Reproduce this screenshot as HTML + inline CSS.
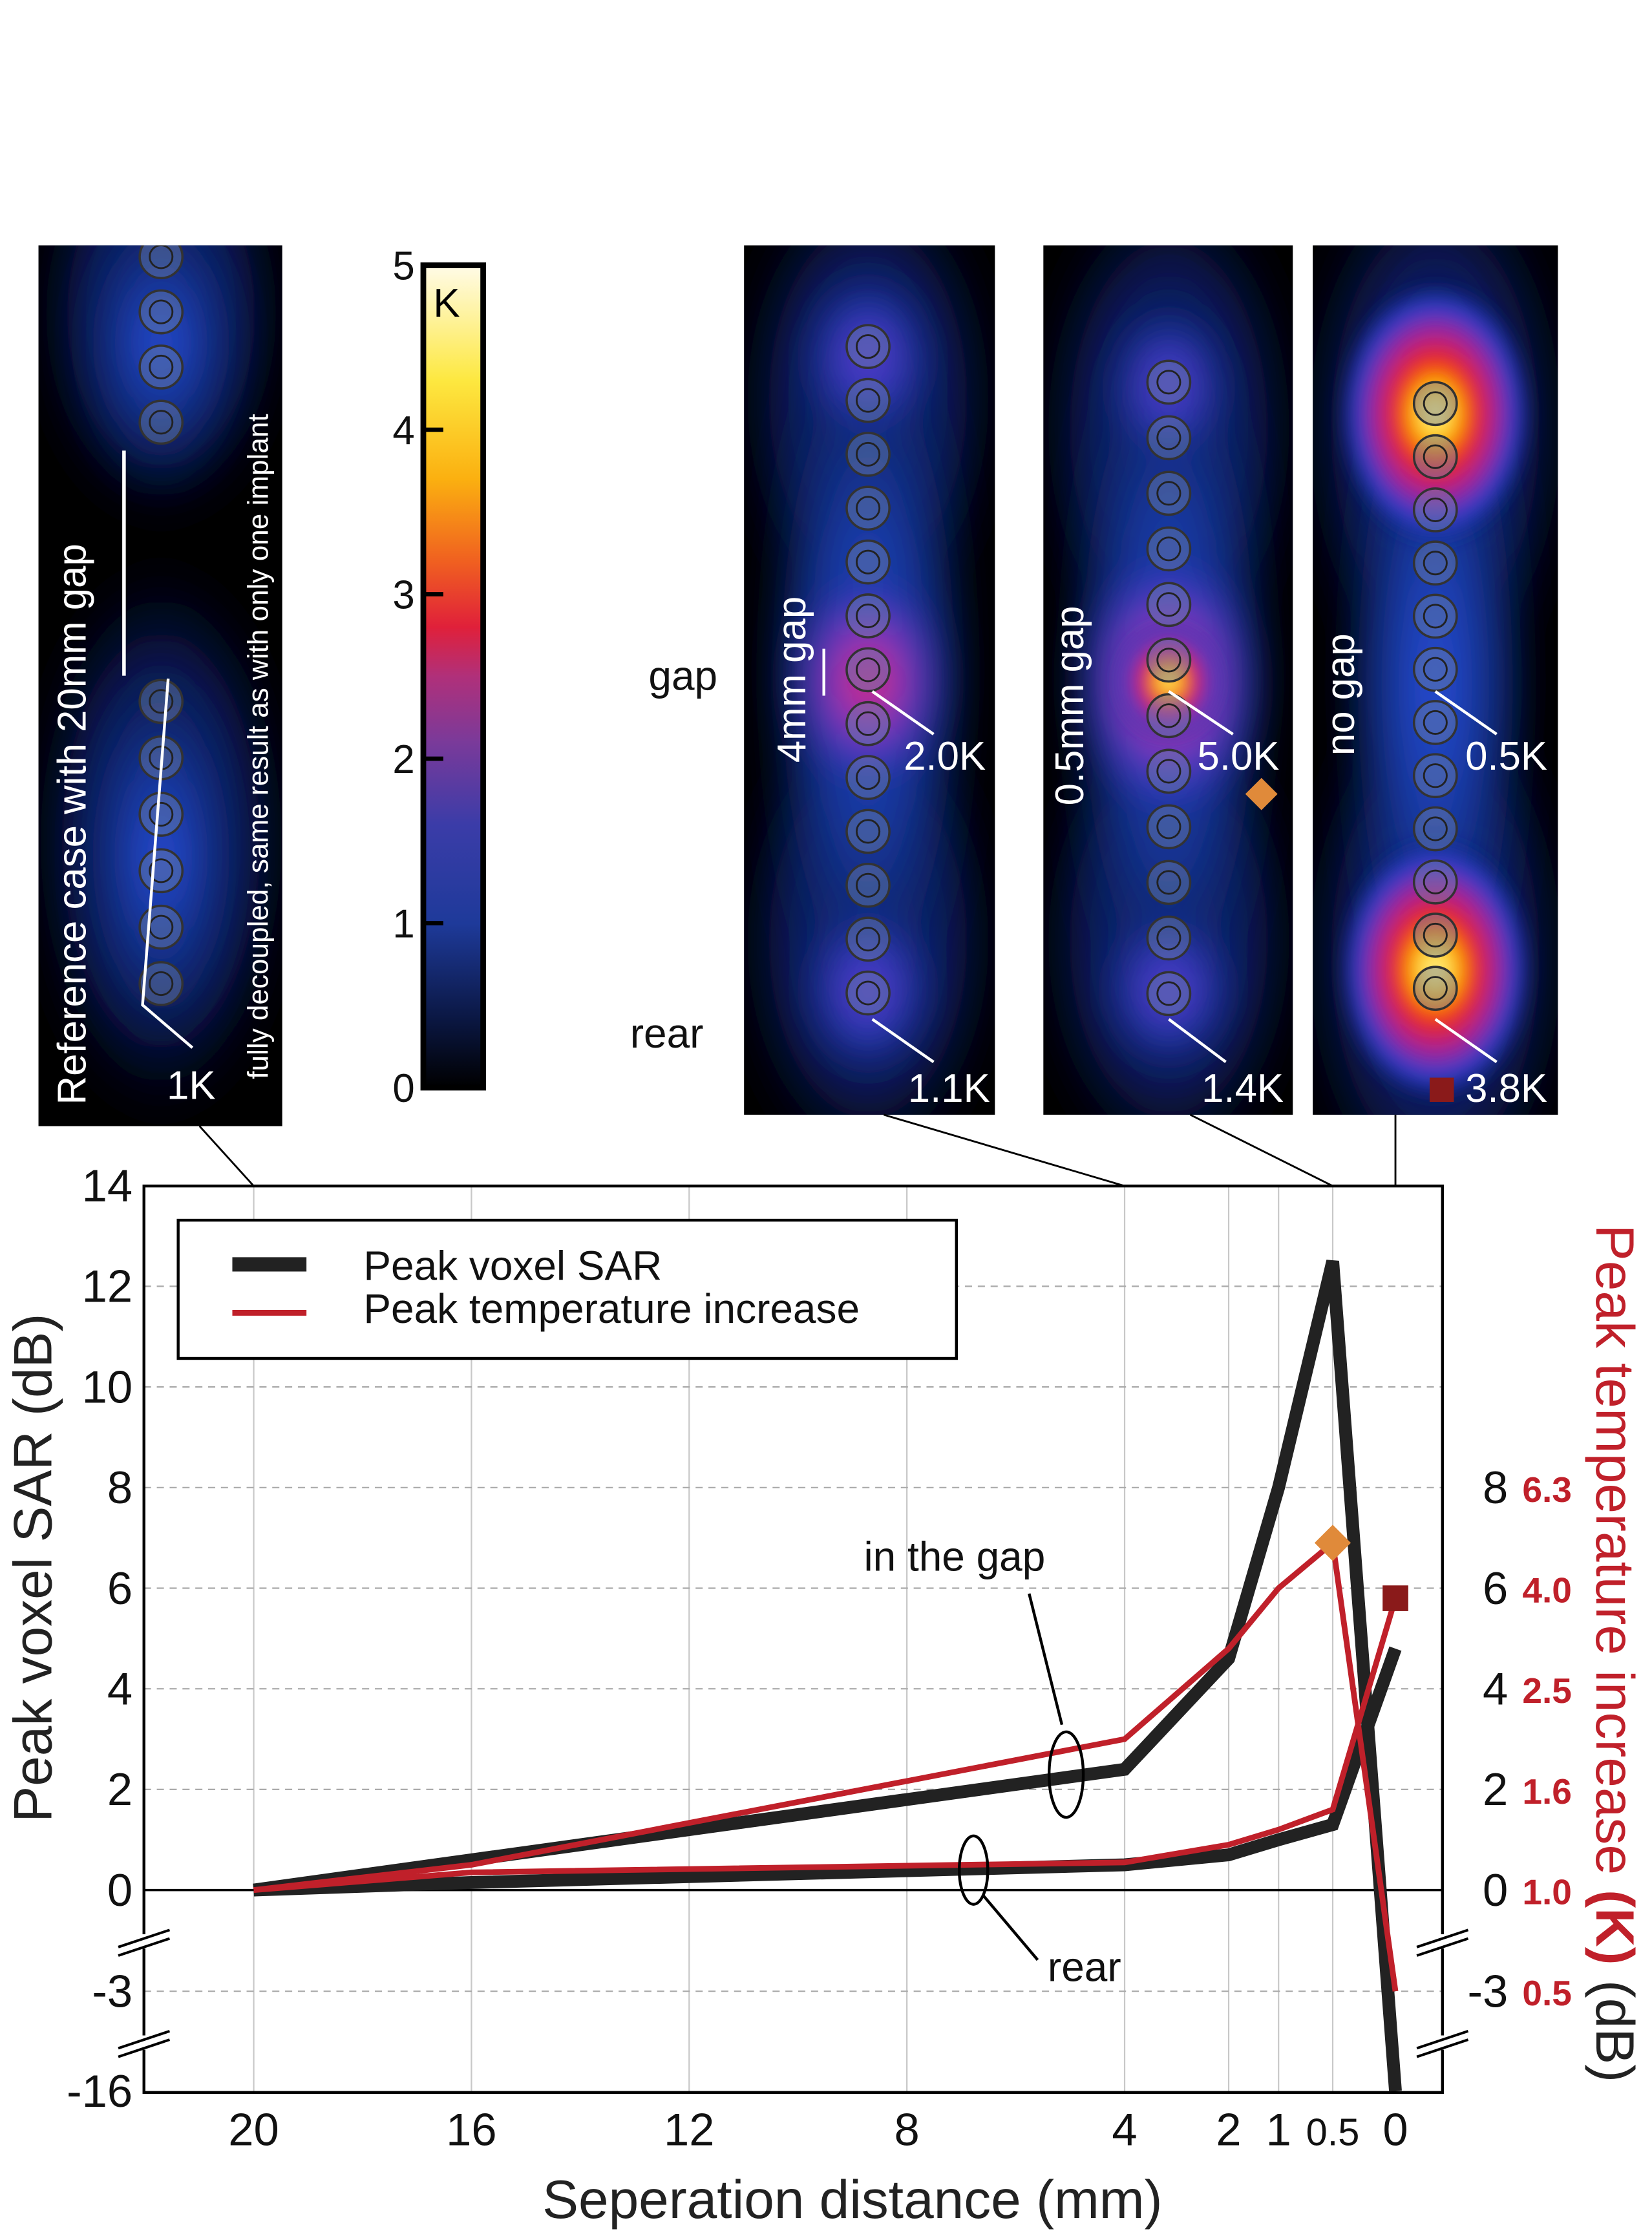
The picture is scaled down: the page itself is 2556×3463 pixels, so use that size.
<!DOCTYPE html>
<html><head><meta charset="utf-8"><style>
html,body{margin:0;padding:0;background:#fff}
svg{display:block}
text{font-family:"Liberation Sans",sans-serif}
</style></head><body>
<svg id="fig" width="2556" height="3463" viewBox="0 0 1159 1570" xmlns="http://www.w3.org/2000/svg">
<defs>
<filter id="blur" x="-50%" y="-50%" width="200%" height="200%"><feGaussianBlur stdDeviation="14"/></filter>
<filter id="blur2" x="-50%" y="-50%" width="200%" height="200%"><feGaussianBlur stdDeviation="6"/></filter>
<linearGradient id="cmap" x1="0" y1="1" x2="0" y2="0">
<stop offset="0" stop-color="#000"/><stop offset="0.08" stop-color="#0a1640"/><stop offset="0.2" stop-color="#1e3a9a"/>
<stop offset="0.32" stop-color="#3b3ca8"/><stop offset="0.42" stop-color="#7a3a9a"/><stop offset="0.5" stop-color="#b0307a"/>
<stop offset="0.56" stop-color="#e0203a"/><stop offset="0.64" stop-color="#f06020"/><stop offset="0.74" stop-color="#fbb010"/>
<stop offset="0.86" stop-color="#fde840"/><stop offset="1" stop-color="#fffbe8"/></linearGradient>
<radialGradient id="halo"><stop offset="0" stop-color="#1a3090"/><stop offset="0.6" stop-color="#0c1a58"/><stop offset="1" stop-color="#050a25" stop-opacity="0"/></radialGradient>
<radialGradient id="hb"><stop offset="0" stop-color="#2a50e0"/><stop offset="0.5" stop-color="#12308a"/><stop offset="1" stop-color="#05102a" stop-opacity="0"/></radialGradient>
<radialGradient id="hm"><stop offset="0" stop-color="#f02050"/><stop offset="0.35" stop-color="#a030b0"/><stop offset="0.7" stop-color="#2a40c8"/><stop offset="1" stop-color="#0a1a60" stop-opacity="0"/></radialGradient>
<radialGradient id="hh"><stop offset="0" stop-color="#fff8b0"/><stop offset="0.18" stop-color="#ffd010"/><stop offset="0.38" stop-color="#f02a10"/><stop offset="0.58" stop-color="#b02090"/><stop offset="0.8" stop-color="#2a40d0"/><stop offset="1" stop-color="#0a1a60" stop-opacity="0"/></radialGradient>
<radialGradient id="hp"><stop offset="0" stop-color="#7030c0"/><stop offset="0.5" stop-color="#2a40c8"/><stop offset="1" stop-color="#0a1a60" stop-opacity="0"/></radialGradient>
</defs>
<g id="heatmaps"></g>
<g id="chart"></g>
</svg>
<script>
// ===== chart data =====
const xTicks = [20,16,12,8,4,2,1,0.5,0];
const xTickLabels = ["20","16","12","8","4","2","1","0.5","0"];
const yTicks = [14,12,10,8,6,4,2,0,-3,-16];
const yTickLabels = ["14","12","10","8","6","4","2","0","-3","-16"];
const yRightTicks = [8,6,4,2,0,-3];
const yRightLabels = ["6.3","4.0","2.5","1.6","1.0","0.5"];
const distances = [20,16,4,2,1,0.5,0];
const sarGap = [0,0.6,2.4,4.6,8,12.5,-16];
const sarRear = [0,0.15,0.5,0.7,1.0,1.3,4.8];
const tempGap = [0,0.5,3,4.8,6,6.9,-3];
const tempRear = [0,0.35,0.55,0.9,1.2,1.6,5.8];

const NS="http://www.w3.org/2000/svg";
function mk(tag,attrs,parent,txt){const e=document.createElementNS(NS,tag);for(const k in attrs)e.setAttribute(k,attrs[k]);if(txt!==undefined)e.textContent=txt;parent.appendChild(e);return e;}
const xKnotsV=[20,4,2,1,0.5,0], xKnotsP=[178,789,862,897,935,979];
function X(v){for(let i=0;i<xKnotsV.length-1;i++){const a=xKnotsV[i],b=xKnotsV[i+1];if(v<=a&&v>=b)return xKnotsP[i]+(a-v)/(a-b)*(xKnotsP[i+1]-xKnotsP[i]);}return 979;}
function Y(v){if(v>=0)return 1326-35.3*v;if(v>=-3)return 1326+v/-3*71;return 1397+(v+3)/-13*70;}
const C=document.getElementById('chart');
const L=101,R=1012,T=832,B=1468;
xTicks.forEach((t,i)=>{if(t===20||t===0)return;const g=mk('line',{x1:X(t),x2:X(t),y1:T,y2:B,stroke:'#c8c8c8','stroke-width':1},C);});
mk('line',{x1:X(20),x2:X(20),y1:T,y2:B,stroke:'#c8c8c8','stroke-width':1},C);
yTicks.forEach(t=>{if(t===0||t===14||t===-16)return;const g=mk('line',{x1:L,x2:R,y1:Y(t),y2:Y(t),stroke:'#aaa','stroke-width':1,'stroke-dasharray':'5,4'},C);});
mk('line',{x1:L,x2:R,y1:Y(0),y2:Y(0),stroke:'#000','stroke-width':1.6},C);
const fr=mk('rect',{x:L,y:T,width:R-L,height:B-T,fill:'none',stroke:'#000','stroke-width':2},C);

[[L,1362],[L,1433],[R,1362],[R,1433]].forEach(([x,y])=>{mk('rect',{x:x-18,y:y-5,width:36,height:10,fill:'#fff'},C);mk('line',{x1:x-18,y1:y+4,x2:x+18,y2:y-8,stroke:'#000','stroke-width':1.8},C);mk('line',{x1:x-18,y1:y+10,x2:x+18,y2:y-2,stroke:'#000','stroke-width':1.8},C);});
xTicks.forEach((t,i)=>{const e=mk('text',{x:X(t),y:1505,'font-size':t===0.5?27:32,'text-anchor':'middle',fill:'#111'},C,xTickLabels[i]);});
yTicks.forEach((t,i)=>{const e=mk('text',{x:93,y:Y(t)+11,'font-size':32,'text-anchor':'end',fill:'#111'},C,yTickLabels[i]);});
yRightTicks.forEach((t,i)=>{const e=mk('text',{x:1058,y:Y(t)+11,'font-size':32,'text-anchor':'end',fill:'#111'},C,String(t));
 const r=mk('text',{x:1068,y:Y(t)+10,'font-size':25,'font-weight':'bold',fill:'#c0202a'},C,yRightLabels[i]);});
function line(vals,stroke,w,name){const d=vals.map((v,i)=>(i?'L':'M')+X(distances[i]).toFixed(1)+','+Y(v).toFixed(1)).join(' ');const p=mk('path',{d,fill:'none',stroke,'stroke-width':w,'stroke-linejoin':'miter'},C);}
line(sarGap,'#222',9,'sar-gap-line');line(sarRear,'#222',9,'sar-rear-line');
line(tempGap,'#c0202a',4,'temp-gap-line');line(tempRear,'#c0202a',4,'temp-rear-line');
const dm=mk('rect',{x:X(0.5)-9,y:Y(tempGap[5])-9,width:18,height:18,fill:'#e08a3a',transform:`rotate(45 ${X(0.5)} ${Y(tempGap[5])})`},C);
const sq=mk('rect',{x:X(0)-9,y:Y(tempRear[6])-9,width:18,height:18,fill:'#8a1a1a'},C);
mk('text',{x:606,y:1102,'font-size':29,fill:'#111'},C,'in the gap');
mk('path',{d:'M722,1118 L745,1210',stroke:'#000','stroke-width':2,fill:'none'},C);
mk('ellipse',{cx:748,cy:1245,rx:12,ry:30,fill:'none',stroke:'#000','stroke-width':2},C);
mk('text',{x:735,y:1390,'font-size':29,fill:'#111'},C,'rear');
mk('path',{d:'M690,1330 L728,1375',stroke:'#000','stroke-width':2,fill:'none'},C);
mk('ellipse',{cx:683,cy:1312,rx:10,ry:24,fill:'none',stroke:'#000','stroke-width':2},C);
const lg=mk('g',{},C);
mk('rect',{x:125,y:856,width:546,height:97,fill:'#fff',stroke:'#000','stroke-width':2},lg);
mk('line',{x1:163,x2:215,y1:887,y2:887,stroke:'#222','stroke-width':10},lg);
mk('line',{x1:163,x2:215,y1:921,y2:921,stroke:'#c0202a','stroke-width':4},lg);
mk('text',{x:255,y:898,'font-size':29,fill:'#111'},lg,'Peak voxel SAR');
mk('text',{x:255,y:928,'font-size':29,fill:'#111'},lg,'Peak temperature increase');
const xt=mk('text',{x:598,y:1556,'font-size':38,'text-anchor':'middle',fill:'#222'},C,'Seperation distance (mm)');
const yt=mk('text',{x:0,y:0,'font-size':38,'text-anchor':'middle',fill:'#222',transform:'translate(36,1100) rotate(-90)'},C,'Peak voxel SAR (dB)');
const yr=mk('text',{x:0,y:0,'font-size':38,'text-anchor':'middle',fill:'#c0202a',transform:'translate(1120,1160) rotate(90)'},C);
mk('tspan',{},yr,'Peak temperature increase ');mk('tspan',{'font-weight':'bold'},yr,'(K)');mk('tspan',{fill:'#222'},yr,' (dB)');
[[178,832,140,790],[789,832,620,782],[935,832,835,782],[979,832,979,782]].forEach(a=>mk('line',{x1:a[0],y1:a[1],x2:a[2],y2:a[3],stroke:'#000','stroke-width':1.3},C));

// ===== heatmaps =====
const H=document.getElementById('heatmaps');
function panel(x,w,y,h,name,halos,blobs,hot,chains){const g=mk('g',{},H);
 const cid='clip'+name;const cp=mk('clipPath',{id:cid},g);mk('rect',{x,y,width:w,height:h},cp);
 mk('rect',{x,y,width:w,height:h,fill:'#000'},g);const inner=mk('g',{'clip-path':`url(#${cid})`},g);
 const hl=mk('g',{filter:'url(#blur)'},inner);halos.forEach(b=>mk('ellipse',{cx:b[0],cy:b[1],rx:b[2],ry:b[3],fill:'url(#halo)'},hl));
 const bl=mk('g',{filter:'url(#blur)'},inner);blobs.forEach(b=>mk('ellipse',{cx:b[0],cy:b[1],rx:b[2],ry:b[3],fill:`url(#${b[4]})`},bl));
 const hb=mk('g',{filter:'url(#blur2)'},inner);hot.forEach(b=>mk('ellipse',{cx:b[0],cy:b[1],rx:b[2],ry:b[3],fill:`url(#${b[4]})`},hb));
 chains.forEach(c=>{for(let yy=c[1];yy<=c[2]+1;yy+=c[3]){mk('circle',{cx:c[0],cy:yy,r:15,fill:'rgba(110,130,170,0.45)',stroke:'#333','stroke-width':1.6},inner);mk('circle',{cx:c[0],cy:yy,r:8,fill:'none',stroke:'#222','stroke-width':1.3},inner);}});
 return g;}
panel(27,171,172,618,'reference-map',[[113,220,90,150],[113,590,95,200]],[[113,240,60,110,'hb'],[113,600,60,150,'hb']],[],[[113,180,296,38.7],[113,492,690,39.6]]);
panel(522,176,172,610,'gap-4mm-map',[[609,280,95,170],[609,660,95,170],[609,470,70,120]],[[609,470,80,300,'hb'],[609,478,55,80,'hm'],[609,250,45,60,'hp'],[609,695,45,60,'hp']],[],[[609,243,697,37.8]]);
panel(732,175,172,610,'gap-05mm-map',[[820,300,95,180],[820,660,95,170],[820,470,70,120]],[[820,470,80,300,'hb'],[820,480,65,100,'hm'],[820,270,40,55,'hp'],[820,695,45,55,'hp']],[[820,478,38,42,'hh']],[[820,268,697,39]]);
panel(921,172,172,610,'no-gap-map',[[1007,300,100,200],[1007,670,100,200],[1007,480,65,120]],[[1007,480,70,320,'hb']],[[1007,290,70,95,'hh'],[1007,680,70,95,'hh']],[[1007,283,693,37.3]]);
function T2(x,y,s,txt,attrs){const a=Object.assign({x,y,'font-size':s,fill:'#fff'},attrs||{});return mk('text',a,H,txt);}
T2(0,0,28,'Reference case with 20mm gap',{transform:'translate(60,775) rotate(-90)'});
T2(0,0,20,'fully decoupled, same result as with only one implant',{transform:'translate(188,757) rotate(-90)'});
mk('line',{x1:87,y1:316,x2:87,y2:474,stroke:'#fff','stroke-width':2.5},H);
mk('path',{d:'M118,476 L100,705 L135,735',stroke:'#fff','stroke-width':2,fill:'none'},H);
T2(117,771,28,'1K');
T2(0,0,28,'4mm gap',{transform:'translate(565,535) rotate(-90)'});
mk('line',{x1:578,y1:455,x2:578,y2:488,stroke:'#fff','stroke-width':2},H);
T2(0,0,28,'0.5mm gap',{transform:'translate(760,565) rotate(-90)'});
T2(0,0,28,'no gap',{transform:'translate(950,530) rotate(-90)'});
[[612,485,655,515,'2.0K',634,540],[612,715,655,745,'1.1K',637,773],[820,485,865,515,'5.0K',840,540],[820,715,860,745,'1.4K',843,773],[1007,485,1050,515,'0.5K',1028,540],[1007,715,1050,745,'3.8K',1028,773]].forEach(a=>{mk('line',{x1:a[0],y1:a[1],x2:a[2],y2:a[3],stroke:'#fff','stroke-width':2},H);T2(a[5],a[6],28,a[4]);});
mk('rect',{x:877,y:549,width:16,height:16,fill:'#e08a3a',transform:'rotate(45 885 557)'},H);
mk('rect',{x:1003,y:756,width:17,height:17,fill:'#8a1a1a'},H);
mk('text',{x:455,y:484,'font-size':29,fill:'#111'},H,'gap');
mk('text',{x:442,y:735,'font-size':29,fill:'#111'},H,'rear');
const cb=mk('g',{},H);
mk('rect',{x:297,y:186,width:42,height:577,fill:'url(#cmap)',stroke:'#000','stroke-width':4},cb);
mk('text',{x:304,y:222,'font-size':28,fill:'#000'},cb,'K');
const cbTicks=[0,1,2,3,4,5];
cbTicks.forEach(t=>{const y=763-t*115.4;mk('text',{x:291,y:y+10,'font-size':28,'text-anchor':'end',fill:'#111'},cb,String(t));mk('line',{x1:297,x2:311,y1:y,y2:y,stroke:'#000','stroke-width':3},cb);});
</script>
</body></html>
